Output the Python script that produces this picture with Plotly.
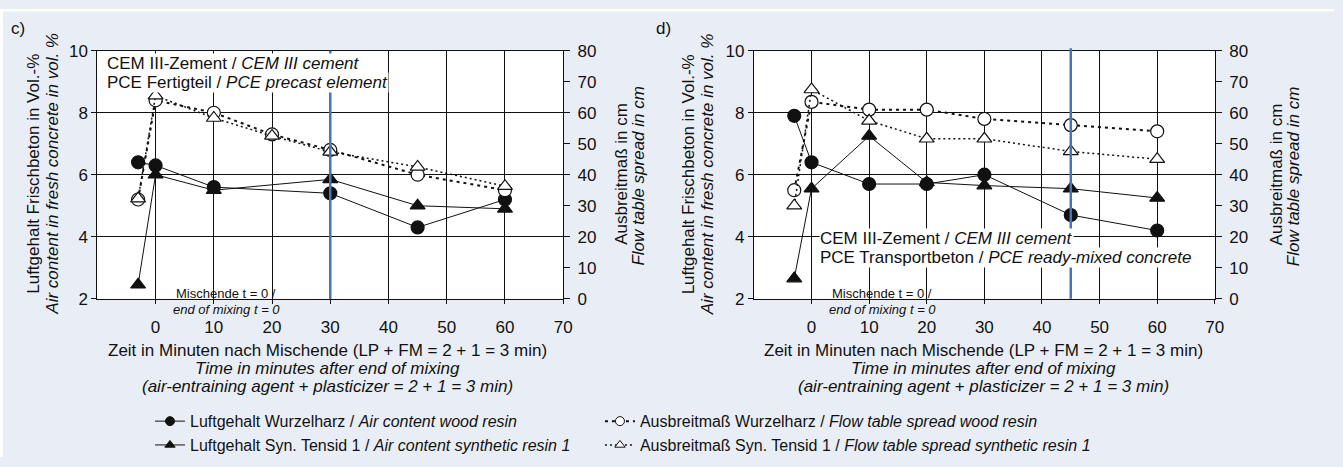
import plotly.graph_objects as go

W, H = 1343, 467

# ---------------- data ----------------
# panel c
c_t_air = [-3, 0, 10, 30, 45, 60]
c_air_wood = [6.4, 6.3, 5.6, 5.4, 4.3, 5.2]
c_air_syn = [2.45, 6.0, 5.5, 5.85, 5.0, 4.9]
c_t_flow = [-3, 0, 10, 20, 30, 45, 60]
c_flow_wood = [32, 64, 60, 53, 48, 40, 35]
c_flow_syn = [32.3, 65.5, 58.3, 52.5, 47.4, 42.5, 36.3]
c_mark = 30

# panel d
d_t = [-3, 0, 10, 20, 30, 45, 60]
d_air_wood = [7.9, 6.4, 5.7, 5.7, 6.0, 4.7, 4.2]
d_air_syn = [2.65, 5.55, 7.25, 5.75, 5.65, 5.55, 5.25]
d_flow_wood = [35, 63.5, 61, 61, 58, 56, 54]
d_flow_syn = [30, 67.5, 57.4, 51.6, 51.6, 47.5, 45]
d_mark = 45

x_ticks = [0, 10, 20, 30, 40, 50, 60, 70]
yl_ticks = [2, 4, 6, 8, 10]
yr_ticks = [0, 10, 20, 30, 40, 50, 60, 70, 80]

names = [
    "Luftgehalt Wurzelharz / <i>Air content wood resin</i>",
    "Luftgehalt Syn. Tensid 1 / <i>Air content synthetic resin 1</i>",
    "Ausbreitmaß Wurzelharz / <i>Flow table spread wood resin</i>",
    "Ausbreitmaß Syn. Tensid 1 / <i>Flow table spread synthetic resin 1</i>",
]

FONT = "Liberation Sans, Arial, sans-serif"
FS = 17
BLACK = "#111111"
BLUE = "#4a74b8"

styles = [
    dict(line=dict(color=BLACK, width=1), symbol="circle", fill=BLACK),
    dict(line=dict(color=BLACK, width=1), symbol="triangle-up", fill=BLACK),
    dict(line=dict(color=BLACK, width=2, dash="3px,4px"), symbol="circle", fill="white"),
    dict(line=dict(color=BLACK, width=1.5, dash="2px,3px"), symbol="triangle-up", fill="white"),
]

fig = go.Figure()


def add_panel(xa, ya, yb, series):
    for i, (xs, ys, yax) in enumerate(series):
        st = styles[i]
        fig.add_trace(go.Scatter(
            x=xs, y=ys, xaxis=xa, yaxis=ya if yax == 0 else yb, mode="lines+markers",
            name=names[i], line=st["line"],
            marker=dict(symbol=st["symbol"], size=13, color=st["fill"],
                        line=dict(color=BLACK, width=1.2)),
            showlegend=False))


add_panel("x", "y", "y2", [(c_t_air, c_air_wood, 0), (c_t_air, c_air_syn, 0),
                           (c_t_flow, c_flow_wood, 1), (c_t_flow, c_flow_syn, 1)])
add_panel("x2", "y3", "y4", [(d_t, d_air_wood, 0), (d_t, d_air_syn, 0),
                             (d_t, d_flow_wood, 1), (d_t, d_flow_syn, 1)])

# legend entries (smaller legend symbols as in the reference)
for i in range(4):
    st = styles[i]
    fig.add_trace(go.Scatter(
        x=[None], y=[None], xaxis="x", yaxis="y", mode="lines+markers", name=names[i],
        line=st["line"],
        marker=dict(symbol=st["symbol"], size=9, color=st["fill"], line=dict(color=BLACK, width=1)),
        showlegend=True, legend="legend" if i < 2 else "legend2", hoverinfo="skip"))

px = lambda v: v / W
py = lambda v: 1 - v / H

ydom = [py(302), py(43.5)]
xdom_c = [px(98), px(567)]
xdom_d = [px(759), px(1223)]

tickfont = dict(family=FONT, size=FS, color=BLACK)

xcommon = dict(range=[-10, 70], tickvals=x_ticks, ticktext=[str(v) for v in x_ticks],
               showgrid=True, gridcolor=BLACK, gridwidth=1, zeroline=False,
               showline=True, linecolor=BLACK, linewidth=1, mirror=True,
               ticks="outside", ticklen=4, tickcolor=BLACK, tickfont=tickfont,
               ticklabelstandoff=9)
ylcommon = dict(range=[2, 10], tickvals=yl_ticks, showgrid=True, gridcolor=BLACK, gridwidth=1,
                zeroline=False, showline=True, linecolor=BLACK, linewidth=1, mirror=True,
                ticks="outside", ticklen=5, tickcolor=BLACK, tickfont=tickfont, domain=ydom)
yrcommon = dict(range=[0, 80], tickvals=yr_ticks, showgrid=False, zeroline=False,
                showline=True, linecolor=BLACK, linewidth=1, side="right",
                ticks="outside", ticklen=6, tickcolor=BLACK, tickfont=tickfont,
                ticklabelstandoff=4)

legfont = dict(family=FONT, size=16, color=BLACK)

fig.update_layout(
    width=W, height=H,
    margin=dict(l=0, r=0, t=0, b=0),
    paper_bgcolor="#e9eef6", plot_bgcolor="white",
    font=dict(family=FONT, size=FS, color=BLACK),
    xaxis=dict(domain=xdom_c, anchor="y", **xcommon),
    yaxis=dict(anchor="x", **ylcommon),
    yaxis2=dict(overlaying="y", anchor="x", **yrcommon),
    xaxis2=dict(domain=xdom_d, anchor="y3", **xcommon),
    yaxis3=dict(anchor="x2", **ylcommon),
    yaxis4=dict(overlaying="y3", anchor="x2", **yrcommon),
    legend=dict(orientation="v", x=px(151), y=py(412), xanchor="left", yanchor="top",
                bgcolor="rgba(0,0,0,0)", font=legfont, traceorder="normal",
                tracegroupgap=0, itemwidth=30),
    legend2=dict(orientation="v", x=px(604), y=py(412), xanchor="left", yanchor="top",
                 bgcolor="rgba(0,0,0,0)", font=legfont, traceorder="normal",
                 tracegroupgap=0, itemwidth=30),
    showlegend=True,
    hovermode=False,
)

shapes = [
    dict(type="rect", xref="paper", yref="paper", x0=0, x1=1, y0=py(2.5), y1=1,
         fillcolor="white", line=dict(width=0), layer="below"),
    dict(type="rect", xref="paper", yref="paper", x0=0, x1=px(3), y0=0, y1=1,
         fillcolor="white", line=dict(width=0), layer="below"),
    dict(type="line", xref="x", yref="paper", x0=c_mark, x1=c_mark, y0=ydom[0], y1=ydom[1],
         line=dict(color=BLUE, width=2.5), layer="above"),
    dict(type="line", xref="x2", yref="paper", x0=d_mark, x1=d_mark, y0=ydom[0], y1=py(41),
         line=dict(color=BLUE, width=2.5), layer="above"),
]
fig.update_layout(shapes=shapes)

ann = []


def A(text, x, y, size=FS, xanchor="center", yanchor="middle", angle=0, bg=None, align="center"):
    d = dict(text=text, x=px(x), y=py(y), xref="paper", yref="paper", showarrow=False,
             xanchor=xanchor, yanchor=yanchor, textangle=angle, align=align,
             font=dict(family=FONT, size=size, color=BLACK))
    if bg:
        d.update(bgcolor=bg, borderpad=0)
    ann.append(d)


A("c)", 18, 20)
A("d)", 668, 20)

for (l1, l2), (r1, r2) in [((33, 52), (625, 643)), ((693, 712), (1285, 1303))]:
    A("Luftgehalt Frischbeton in Vol.-%", l1, 172, angle=-90)
    A("<i>Air content in fresh concrete in vol. %</i>", l2, 172, angle=-90)
    A("Ausbreitmaß in cm", r1, 172, angle=-90)
    A("<i>Flow table spread in cm</i>", r2, 174, angle=-90)

for xc in (330, 990):
    A("Zeit in Minuten nach Mischende (LP + FM = 2 + 1 = 3 min)", xc, 356)
    A("<i>Time in minutes after end of mixing</i>", xc, 375)
    A("<i>(air-entraining agent + plasticizer = 2 + 1 = 3 min)</i>", xc, 394)

for xc in (228, 888):
    A("Mischende t = 0 /", xc, 297, size=13)
    A("<i>end of mixing t = 0</i>", xc, 313, size=13)

A("CEM III-Zement / <i>CEM III cement</i>", 107, 57, xanchor="left", bg="white")
A("PCE Fertigteil / <i>PCE precast element</i>", 107, 77, xanchor="left", bg="white")
A("CEM III-Zement / <i>CEM III cement</i>", 825, 239, xanchor="left", bg="white")
A("PCE Transportbeton / <i>PCE ready-mixed concrete</i>", 825, 259, xanchor="left", bg="white")

fig.update_layout(annotations=ann)

fig.write_html("out.html", config={"displayModeBar": False, "staticPlot": True},
               post_script="document.body.style.margin='0';document.body.style.overflow='hidden';")
